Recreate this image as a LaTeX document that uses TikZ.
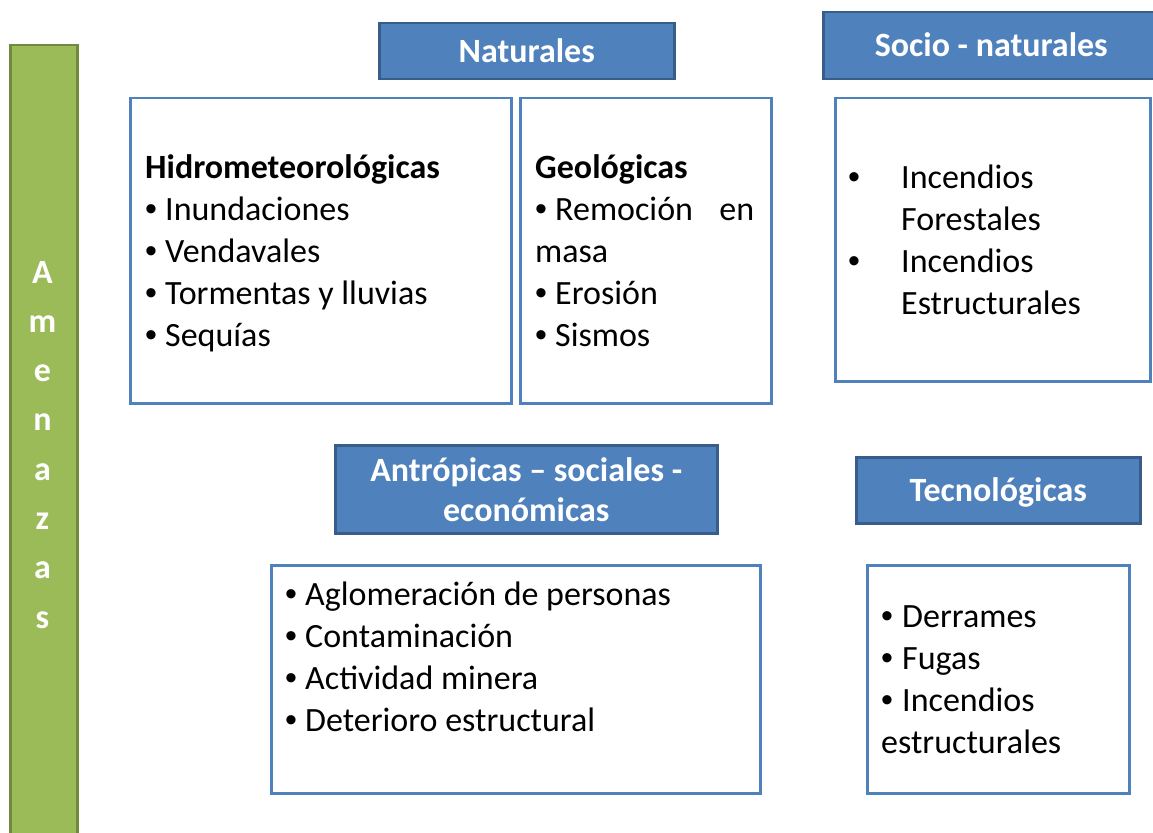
\documentclass[tikz,border=0pt]{standalone}
\usepackage{fontspec}
\setmainfont{Carlito}
\newfontfamily\bulfont{Liberation Sans}
\definecolor{hdrfill}{HTML}{4F81BD}
\definecolor{hdrline}{HTML}{385D8A}
\definecolor{boxline}{HTML}{4F81BD}
\definecolor{grfill}{HTML}{9BBB59}
\definecolor{grline}{HTML}{71893F}
\newcommand\itm[1][20pt]{\makebox[#1][l]{\bulfont •}}
\tikzset{
  hdr/.style={draw=hdrline, fill=hdrfill, line width=2.5pt, text=white, inner sep=0pt,
    font=\fontsize{34}{40}\selectfont\bfseries, align=center, anchor=north west},
  itembox/.style={draw=boxline, line width=2.5pt, fill=white, inner sep=0pt, anchor=north west},
  txt/.style={inner sep=0pt, anchor=base west, font=\fontsize{34}{42}\selectfont},
  vlet/.style={inner sep=0pt, anchor=base, text=white, font=\fontsize{34}{42}\selectfont\bfseries}
}
\begin{document}
\begin{tikzpicture}[x=1pt,y=-1pt]
\useasboundingbox (0,0) rectangle (1153,832);
\clip (0,0) rectangle (1153,832);
% green side bar
\node[draw=grline, fill=grfill, line width=2.5pt, inner sep=0pt, anchor=north west,
  minimum width=67pt, minimum height=800pt] (bar) at (9,44) {};
\foreach \l [count=\i] in {A,m,e,n,a,z,a,s}
  \node[vlet] (L\i) at (42.5, {283+49.3*(\i-1)}) {\l};
% headers
\node[hdr, minimum width=295pt, minimum height=56pt, text height=22pt, text depth=0pt] (natH) at (378,22) {Naturales};
\node[hdr, minimum width=336pt, minimum height=67pt, text height=22pt, text depth=0pt] (socH) at (822,11) {Socio - naturales};
\node[hdr, minimum width=382pt, minimum height=88pt] (antH) at (334,444) {Antrópicas – sociales -\\económicas};
\node[hdr, minimum width=284pt, minimum height=66pt, text height=22pt, text depth=0pt] (tecH) at (855,456) {Tecnológicas};
% boxes
\node[itembox, minimum width=381pt, minimum height=305pt] (hidroB) at (129,97) {};
\node[itembox, minimum width=251pt, minimum height=305pt] (geoB) at (519,97) {};
\node[itembox, minimum width=315pt, minimum height=283pt] (socB) at (834,97) {};
\node[itembox, minimum width=489pt, minimum height=228pt] (antB) at (270,564) {};
\node[itembox, minimum width=262pt, minimum height=228pt] (tecB) at (866,564) {};
% Hidrometeorologicas
\node[txt, font=\fontsize{34}{42}\selectfont\bfseries] (h0) at (145,178) {Hidrometeorológicas};
\node[txt] (h1) at (145,220) {\itm Inundaciones};
\node[txt] (h2) at (145,262) {\itm Vendavales};
\node[txt] (h3) at (145,304) {\itm Tormentas y lluvias};
\node[txt] (h4) at (145,346) {\itm Sequías};
% Geologicas
\node[txt, font=\fontsize{34}{42}\selectfont\bfseries] (g0) at (535,178) {Geológicas};
\node[txt] (g1) at (535,220) {\makebox[219pt][s]{\itm Remoción\hfill en}};
\node[txt] (g2) at (535,262) {masa};
\node[txt] (g3) at (535,304) {\itm Erosión};
\node[txt] (g4) at (535,346) {\itm Sismos};
% Socio-naturales
\node[txt] (s1) at (848,188) {\itm[53pt]Incendios};
\node[txt] (s2) at (901,230) {Forestales};
\node[txt] (s3) at (848,272) {\itm[53pt]Incendios};
\node[txt] (s4) at (901,314) {Estructurales};
% Antropicas
\node[txt] (a1) at (285,605) {\itm Aglomeración de personas};
\node[txt] (a2) at (285,647) {\itm Contaminación};
\node[txt] (a3) at (285,689) {\itm Actividad minera};
\node[txt] (a4) at (285,731) {\itm Deterioro estructural};
% Tecnologicas
\node[txt] (t1) at (881,627) {\itm[21pt]Derrames};
\node[txt] (t2) at (881,669) {\itm[21pt]Fugas};
\node[txt] (t3) at (881,711) {\itm[21pt]Incendios};
\node[txt] (t4) at (881,753) {estructurales};
\end{tikzpicture}
\end{document}
